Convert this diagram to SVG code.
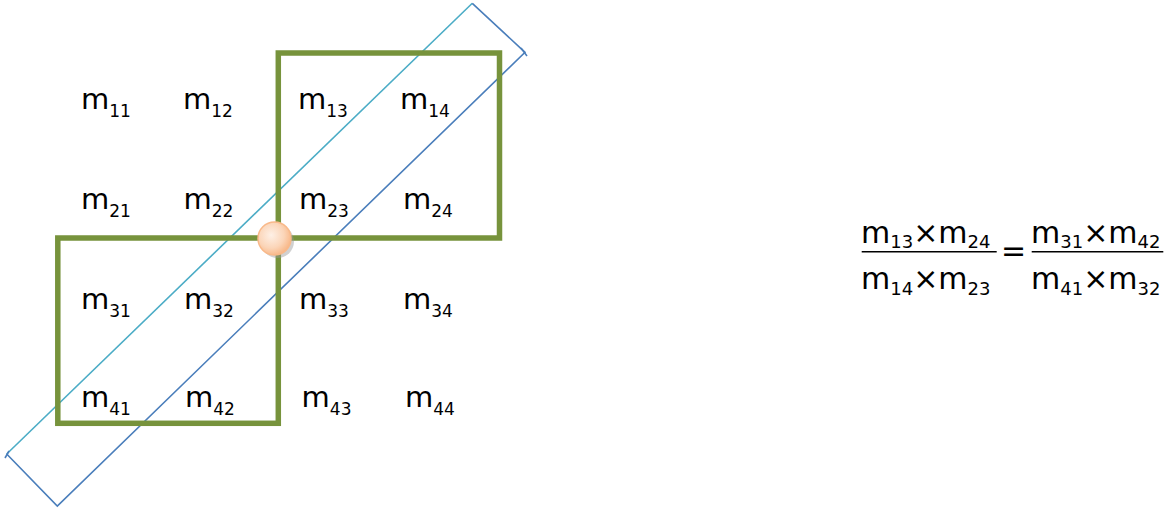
<svg xmlns="http://www.w3.org/2000/svg" width="1173" height="509" viewBox="0 0 1173 509">
<defs>
<style>
.t{font-family:"DejaVu Sans","Verdana",sans-serif;font-size:29px;fill:#000}
.f{font-family:"DejaVu Sans","Verdana",sans-serif;font-size:30px;fill:#000}
.s{font-size:17px}
.fs{font-size:18px}
.g{fill:none;stroke:#77933C;stroke-width:5.5}
.b{fill:none;stroke:#4A7EBB;stroke-width:1.6}
.c{fill:none;stroke:#4BACC6;stroke-width:1.6}
.bar{stroke:#000;stroke-width:1.5}
</style>
<radialGradient id="rg" cx="0.4" cy="0.4" r="0.65">
<stop offset="0" stop-color="#FEF0E6"/>
<stop offset="0.6" stop-color="#FBD5B8"/>
<stop offset="1" stop-color="#F8B482"/>
</radialGradient>
</defs>
<rect width="1173" height="509" fill="#fff"/>
<g id="connectors">
<line class="c" x1="6.7" y1="454" x2="472.3" y2="3.3"/>
<polyline class="b" points="472.3,3.3 525,52.3 57.3,506 6.7,454"/>
<line class="b" x1="521" y1="48" x2="527" y2="56"/>
<line class="b" x1="5" y1="458" x2="9" y2="451"/>
</g>
<g id="box-top-right"><rect class="g" x="278.3" y="53" width="221.2" height="185"/></g>
<g id="box-bottom-left"><rect class="g" x="57.8" y="238" width="220.5" height="185.3"/></g>
<g id="pivot">
<circle cx="277.5" cy="241.5" r="16.5" fill="#9a9a9a" opacity="0.45"/>
<circle cx="274.5" cy="238.5" r="16.5" fill="url(#rg)" stroke="#F9B98A" stroke-width="1.5"/>
</g>
<g id="matrix">
<text class="t" x="81" y="109">m<tspan class="s" dy="8">11</tspan></text>
<text class="t" x="183" y="109">m<tspan class="s" dy="8">12</tspan></text>
<text class="t" x="298" y="109">m<tspan class="s" dy="8">13</tspan></text>
<text class="t" x="400" y="109">m<tspan class="s" dy="8">14</tspan></text>
<text class="t" x="81" y="209">m<tspan class="s" dy="8">21</tspan></text>
<text class="t" x="183.5" y="209">m<tspan class="s" dy="8">22</tspan></text>
<text class="t" x="299" y="209">m<tspan class="s" dy="8">23</tspan></text>
<text class="t" x="403" y="209">m<tspan class="s" dy="8">24</tspan></text>
<text class="t" x="81" y="309">m<tspan class="s" dy="8">31</tspan></text>
<text class="t" x="184" y="309">m<tspan class="s" dy="8">32</tspan></text>
<text class="t" x="299" y="309">m<tspan class="s" dy="8">33</tspan></text>
<text class="t" x="403" y="309">m<tspan class="s" dy="8">34</tspan></text>
<text class="t" x="81" y="407">m<tspan class="s" dy="8">41</tspan></text>
<text class="t" x="185" y="407">m<tspan class="s" dy="8">42</tspan></text>
<text class="t" x="301.6" y="407">m<tspan class="s" dy="8">43</tspan></text>
<text class="t" x="405" y="407">m<tspan class="s" dy="8">44</tspan></text>
</g>
<g id="formula">
<text class="f" x="861" y="243">m<tspan class="fs" dy="5">13</tspan><tspan dy="-5">×m</tspan><tspan class="fs" dy="5">24</tspan></text>
<line class="bar" x1="861.7" y1="251.7" x2="996.7" y2="251.7"/>
<text class="f" x="861" y="289">m<tspan class="fs" dy="6">14</tspan><tspan dy="-6">×m</tspan><tspan class="fs" dy="6">23</tspan></text>
<text class="f" x="1001" y="261">=</text>
<text class="f" x="1031" y="243">m<tspan class="fs" dy="5">31</tspan><tspan dy="-5">×m</tspan><tspan class="fs" dy="5">42</tspan></text>
<line class="bar" x1="1031.7" y1="251.7" x2="1163.3" y2="251.7"/>
<text class="f" x="1031" y="289">m<tspan class="fs" dy="6">41</tspan><tspan dy="-6">×m</tspan><tspan class="fs" dy="6">32</tspan></text>
</g>
</svg>
